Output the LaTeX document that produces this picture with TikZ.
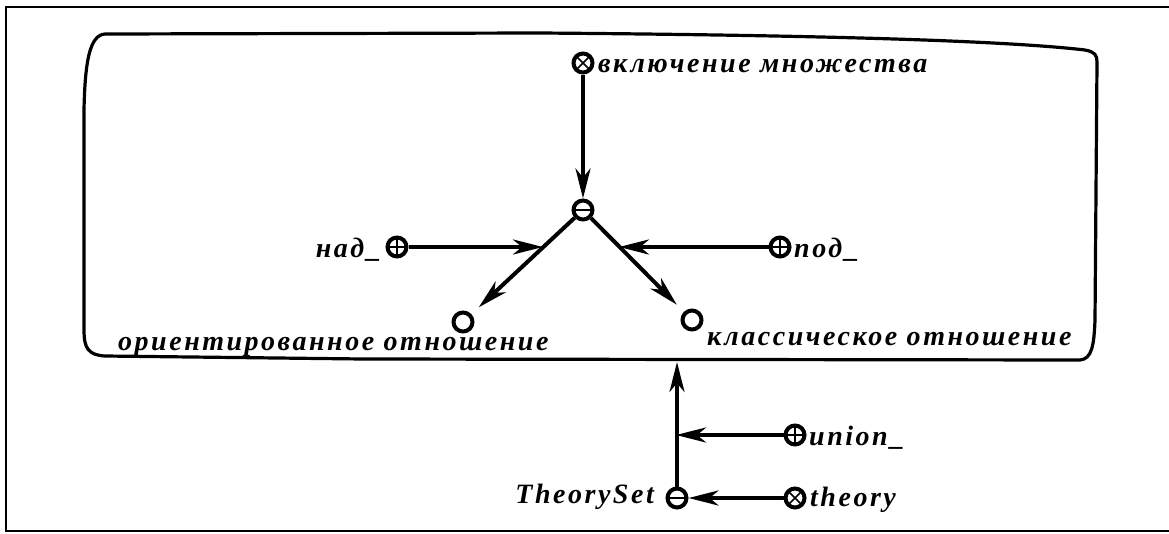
\documentclass[tikz,border=0pt]{standalone}
\usepackage{fontspec}
\setmainfont{Liberation Serif}
\newfontfamily\labfont{Liberation Serif}[LetterSpace=9]
\usetikzlibrary{arrows.meta,calc}
\tikzset{
  pt/.style={circle, draw, line width=4pt, minimum size=19pt, inner sep=0pt, fill=white},
  ptx/.style={pt, path picture={\draw[line width=1.6pt]
     (path picture bounding box.north west)--(path picture bounding box.south east)
     (path picture bounding box.north east)--(path picture bounding box.south west);}},
  ptp/.style={pt, path picture={\draw[line width=1.6pt]
     (path picture bounding box.north)--(path picture bounding box.south)
     (path picture bounding box.west)--(path picture bounding box.east);}},
  ptm/.style={pt, path picture={\draw[line width=1.6pt]
     (path picture bounding box.west)--(path picture bounding box.east);}},
  arr/.style={line width=4pt, -{Stealth[length=30pt,width=15pt,inset=9pt]}},
  lab/.style={font=\fontsize{28}{32}\selectfont\labfont\bfseries\itshape, inner sep=0pt},
  contour/.style={line width=3.2pt, line join=round},
  frame/.style={line width=2.2pt}
}
\begin{document}
\begin{tikzpicture}[x=1pt,y=-1pt]
\useasboundingbox (0,0) rectangle (1169,533);
% outer frame
\draw[frame] (1170,7) -- (6,7) -- (6,531) -- (1170,531);
% contour
\draw[contour] (84,330) -- (84,110) .. controls (85,60) and (90,35) .. (105,34)
  -- (540,33) .. controls (800,35) and (1000,40) .. (1085,50)
  .. controls (1095,52) and (1097,55) .. (1097,62)
  -- (1095,320) .. controls (1094,345) and (1092,359) .. (1080,360)
  -- (363,359) -- (105,356) .. controls (88,355) and (84,348) .. (84,330) -- cycle;
% coordinates
\coordinate (cb) at (677,362);
\coordinate (j) at (677,435);
\coordinate (jl) at (543,247);
\coordinate (jr) at (619,247);
% nodes
\node[ptx] (top) at (583,63) {};
\node[ptm] (c) at (583,210) {};
\node[ptp] (nad) at (397,247) {};
\node[ptp] (pod) at (780,247) {};
\node[pt] (oo) at (463,322) {};
\node[pt] (ko) at (692,320) {};
\node[ptp] (un) at (795,435) {};
\node[ptx] (th) at (795,498) {};
\node[ptm] (ts) at (677,498) {};
% labels
\node[lab, anchor=base west] (ltop) at (598,72) {включение множества};
\node[lab, anchor=base east] (lnad) at (381,257) {над\_};
\node[lab, anchor=base west] (lpod) at (794,257) {под\_};
\node[lab, anchor=base west] (loo) at (118,350) {ориентированное отношение};
\node[lab, anchor=base west] (lko) at (707,345) {классическое отношение};
\node[lab, anchor=base east] (lts) at (654,503) {TheorySet};
\node[lab, anchor=base west] (lun) at (809,445) {union\_};
\node[lab, anchor=base west] (lth) at (810,506) {theory};
% connectors
\draw[arr] (top) -- (c);
\draw[arr, shorten >=10pt] (c) -- (oo);
\draw[arr, shorten >=10pt] (c) -- (ko);
\draw[arr] (nad) -- (jl);
\draw[arr] (pod) -- (jr);
\draw[arr] (ts) -- (cb);
\draw[arr, shorten >=-1pt] (un) -- (j);
\draw[arr] (th) -- (ts);
\end{tikzpicture}
\end{document}
